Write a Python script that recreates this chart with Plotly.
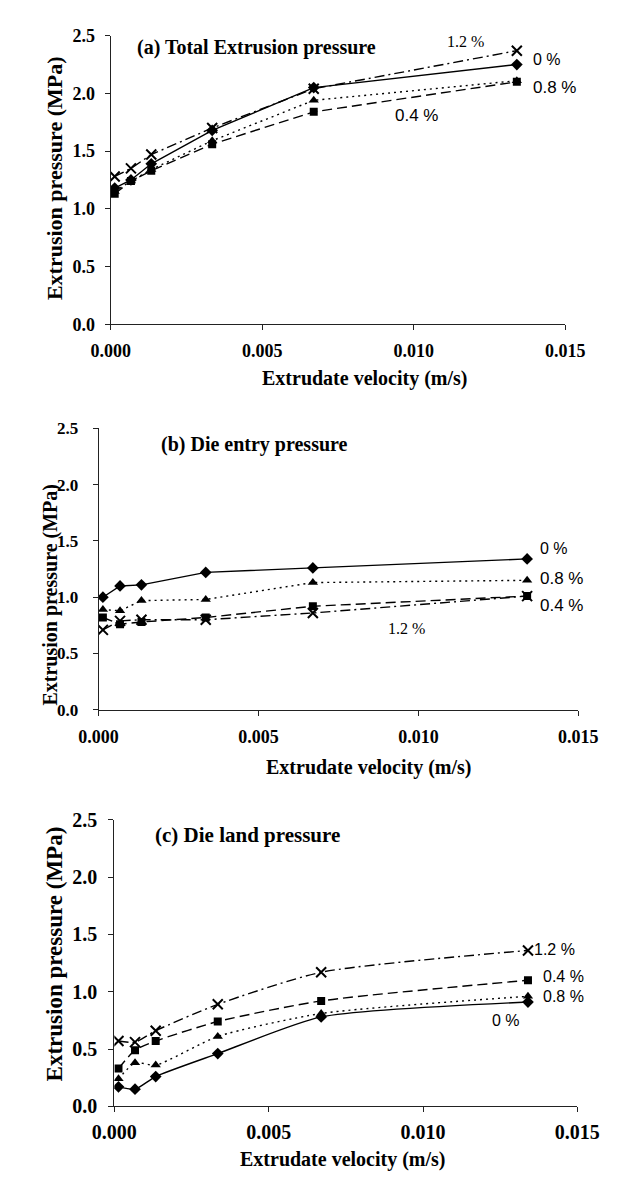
import plotly.graph_objects as go

W, H = 622, 1180

# ---------------- data ----------------
velocity = [0.000134, 0.00067, 0.00134, 0.00335, 0.0067, 0.0134]
series_names = ["0 %", "0.4 %", "0.8 %", "1.2 %"]

total_0 = [1.18, 1.25, 1.39, 1.68, 2.05, 2.25]
total_04 = [1.13, 1.24, 1.33, 1.56, 1.84, 2.10]
total_08 = [1.15, 1.24, 1.34, 1.59, 1.94, 2.11]
total_12 = [1.28, 1.35, 1.47, 1.70, 2.04, 2.37]

entry_0 = [1.00, 1.10, 1.11, 1.22, 1.26, 1.34]
entry_04 = [0.82, 0.76, 0.78, 0.82, 0.92, 1.01]
entry_08 = [0.89, 0.88, 0.97, 0.98, 1.13, 1.15]
entry_12 = [0.71, 0.79, 0.80, 0.80, 0.86, 1.01]

land_0 = [0.17, 0.15, 0.26, 0.46, 0.78, 0.91]
land_04 = [0.33, 0.49, 0.57, 0.74, 0.92, 1.10]
land_08 = [0.24, 0.38, 0.36, 0.61, 0.81, 0.96]
land_12 = [0.57, 0.56, 0.66, 0.89, 1.17, 1.36]

panel_titles = ["(a) Total Extrusion pressure", "(b) Die entry pressure", "(c) Die land pressure"]
x_title = "Extrudate velocity (m/s)"
y_title = "Extrusion pressure (MPa)"
x_ticks = [0.0, 0.005, 0.010, 0.015]
y_ticks = [0.0, 0.5, 1.0, 1.5, 2.0, 2.5]

# ---------------- styles ----------------
styles = {
    "0 %": dict(dash="solid", symbol="diamond", size=9),
    "0.4 %": dict(dash="10px,5px", symbol="square", size=8),
    "0.8 %": dict(dash="2px,4px", symbol="triangle-up", size=9),
    "1.2 %": dict(dash="10px,4px,2px,4px", symbol="x-thin-open", size=10),
}

SERIF = "Liberation Serif, Times New Roman, serif"
SANS = "Liberation Sans, Arial, sans-serif"


def px(x):
    return x / W


def py(y):
    return 1 - y / H


# panel geometry in pixels: (left, right, top, bottom)
panels = [
    dict(box=(86, 577, 17, 311), data=[total_0, total_04, total_08, total_12], smooth=False,
         ytickfont=18, xtickfont=18, titlefont=20, xstand=5, ystand=6,
         title_xy=(112, 29), ytitle_xy=(26, 162), xtitle_xy=(361, 366), tfs=20, yfs=22,
         labels=[("1.2 %", 447, 23, SERIF, 16), ("0 %", 540, 41, SANS, 16),
                 ("0.8 %", 540, 70, SANS, 17), ("0.4 %", 391, 98, SANS, 17)]),
    dict(box=(73, 591, 417, 704), data=[entry_0, entry_04, entry_08, entry_12], smooth=False,
         ytickfont=17, xtickfont=18, titlefont=20, xstand=6, ystand=11,
         title_xy=(138, 434), ytitle_xy=(21, 587), xtitle_xy=(365, 763), tfs=20, yfs=20,
         labels=[("0 %", 547, 540, SANS, 16), ("0.8 %", 547, 570, SANS, 17),
                 ("0.4 %", 547, 598, SANS, 17), ("1.2 %", 383, 621, SERIF, 16)]),
    dict(box=(90, 590, 816, 1108), data=[land_0, land_04, land_08, land_12], smooth=True,
         ytickfont=20, xtickfont=20, titlefont=21, xstand=3, ystand=7,
         title_xy=(132, 831), ytitle_xy=(25, 953), xtitle_xy=(337, 1162), tfs=20, yfs=23,
         labels=[("1.2 %", 541, 948, SANS, 16), ("0.4 %", 551, 976, SANS, 16),
                 ("0.8 %", 551, 996, SANS, 16), ("0 %", 496, 1021, SANS, 16)]),
]

fig = go.Figure()
annotations = []
layout = {}

for i, p in enumerate(panels):
    n = "" if i == 0 else str(i + 1)
    xa, ya = "x" + n, "y" + n
    l, r, t, b = p["box"]
    for name, vals in zip(series_names, p["data"]):
        st = styles[name]
        fig.add_trace(go.Scatter(
            x=velocity, y=vals, xaxis=xa, yaxis=ya, mode="lines+markers",
            name=name, showlegend=False,
            line=dict(color="black", width=1.4, dash=st["dash"],
                      shape="spline" if p["smooth"] else "linear", smoothing=0.6),
            marker=dict(symbol=st["symbol"], size=st["size"], color="black",
                        line=dict(color="black", width=2 if "x" in st["symbol"] else 0)),
        ))
    layout["xaxis" + n] = dict(
        domain=[px(l), px(r)], anchor=ya, range=[0, 0.015],
        tickvals=x_ticks, tickformat=".3f", showgrid=False, zeroline=False,
        showline=True, linecolor="#222", linewidth=1, ticks="outside", ticklen=5,
        tickcolor="#222", ticklabelstandoff=p["xstand"],
        tickfont=dict(family=SERIF, size=p["xtickfont"], color="black", weight="bold"),
    )
    layout["yaxis" + n] = dict(
        domain=[py(b), py(t)], anchor=xa, range=[0, 2.5],
        tickvals=y_ticks, tickformat=".1f", showgrid=False, zeroline=False,
        showline=True, linecolor="#222", linewidth=1, ticks="outside", ticklen=5,
        tickcolor="#222", ticklabelstandoff=p["ystand"],
        tickfont=dict(family=SERIF, size=p["ytickfont"], color="black", weight="bold"),
    )
    tx, ty = p["title_xy"]
    annotations.append(dict(text="<b>" + panel_titles[i] + "</b>", x=px(tx), y=py(ty),
                            xref="paper", yref="paper", xanchor="left", yanchor="middle",
                            showarrow=False, font=dict(family=SERIF, size=p["titlefont"], color="black")))
    yx, yy = p["ytitle_xy"]
    annotations.append(dict(text="<b>" + y_title + "</b>", x=px(yx), y=py(yy), textangle=-90,
                            xref="paper", yref="paper", xanchor="center", yanchor="middle",
                            showarrow=False, font=dict(family=SERIF, size=p["yfs"], color="black")))
    xx, xy = p["xtitle_xy"]
    annotations.append(dict(text="<b>" + x_title + "</b>", x=px(xx), y=py(xy),
                            xref="paper", yref="paper", xanchor="center", yanchor="middle",
                            showarrow=False, font=dict(family=SERIF, size=p["tfs"], color="black")))
    for txt, lx, ly, fam, fs in p["labels"]:
        annotations.append(dict(text=txt, x=px(lx), y=py(ly), xref="paper", yref="paper",
                                xanchor="left", yanchor="middle", showarrow=False,
                                font=dict(family=fam, size=fs, color="black")))

fig.update_layout(
    width=W, height=H, margin=dict(l=0, r=0, t=0, b=0),
    paper_bgcolor="white", plot_bgcolor="white",
    annotations=annotations, **layout,
)

fig.write_html("out.html")
